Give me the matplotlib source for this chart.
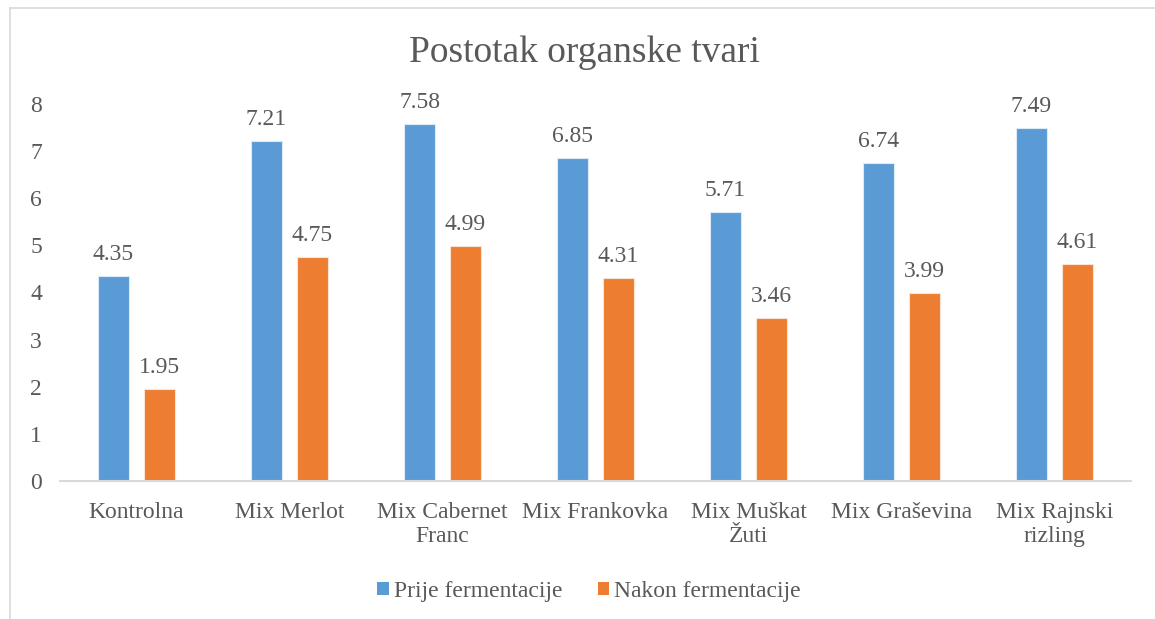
import matplotlib
matplotlib.use("Agg")
import matplotlib.pyplot as plt
import numpy as np
from matplotlib.patches import Patch
from matplotlib.lines import Line2D

categories = ["Kontrolna", "Mix Merlot", "Mix Cabernet\nFranc", "Mix Frankovka",
              "Mix Muškat\nŽuti", "Mix Graševina", "Mix Rajnski\nrizling"]
prije = [4.35, 7.21, 7.58, 6.85, 5.71, 6.74, 7.49]
nakon = [1.95, 4.75, 4.99, 4.31, 3.46, 3.99, 4.61]
series_names = ["Prije fermentacije", "Nakon fermentacije"]
title = "Postotak organske tvari"

blue = "#5B9BD5"
orange = "#ED7D31"
txt = "#595959"

plt.rcParams['font.family'] = ['Liberation Serif', 'DejaVu Serif']

fig = plt.figure(figsize=(11.55, 6.19), dpi=100)
ax = fig.add_axes([60/1155, 1-481/619, (1131-60)/1155, (481-104)/619])

x = np.arange(len(categories))
w = 0.2
off = 0.15
b1 = ax.bar(x - off, prije, w, color=blue, edgecolor="#DCE9F6", linewidth=0.8)
b2 = ax.bar(x + off, nakon, w, color=orange, edgecolor="#FBE3D4", linewidth=0.8)

for bars, vals in ((b1, prije), (b2, nakon)):
    for r, v in zip(bars, vals):
        ax.annotate(f"{v:.2f}", (r.get_x() + r.get_width()/2, v), xytext=(0, 8),
                    textcoords="offset points", ha="center", va="bottom",
                    fontsize=17, color=txt)

ax.set_xlim(-0.5, len(categories) - 0.5)
ax.set_ylim(0, 8)
ax.set_yticks(range(0, 9))
ax.set_xticks(x)
ax.set_xticklabels(categories, fontsize=17, color=txt, linespacing=1.2)
ax.tick_params(axis='y', labelsize=17, colors=txt, length=0, pad=13)
ax.tick_params(axis='x', length=0, pad=15)
for s in ("top", "right", "left"):
    ax.spines[s].set_visible(False)
ax.spines["bottom"].set_color("#D9D9D9")
ax.spines["bottom"].set_linewidth(1.5)

fig.text(584/1155, 1-53/619, title, ha="center", va="center", fontsize=27, color=txt)

handles = [Patch(facecolor=blue, edgecolor="none"), Patch(facecolor=orange, edgecolor="none")]
fig.legend(handles, series_names, loc="center", bbox_to_anchor=(589/1155, 1-591/619),
           ncol=2, frameon=False, fontsize=17, labelcolor=txt,
           handlelength=0.48, handleheight=0.48, handletextpad=0.22, columnspacing=1.5)

# chart border (top and left visible)
fig.add_artist(Line2D([10/1155, 1], [1-8/619, 1-8/619], transform=fig.transFigure,
                      color="#D9D9D9", linewidth=1.2))
fig.add_artist(Line2D([10/1155, 10/1155], [0, 1-8/619], transform=fig.transFigure,
                      color="#D9D9D9", linewidth=1.2))

fig.savefig("out.png", dpi=100)
